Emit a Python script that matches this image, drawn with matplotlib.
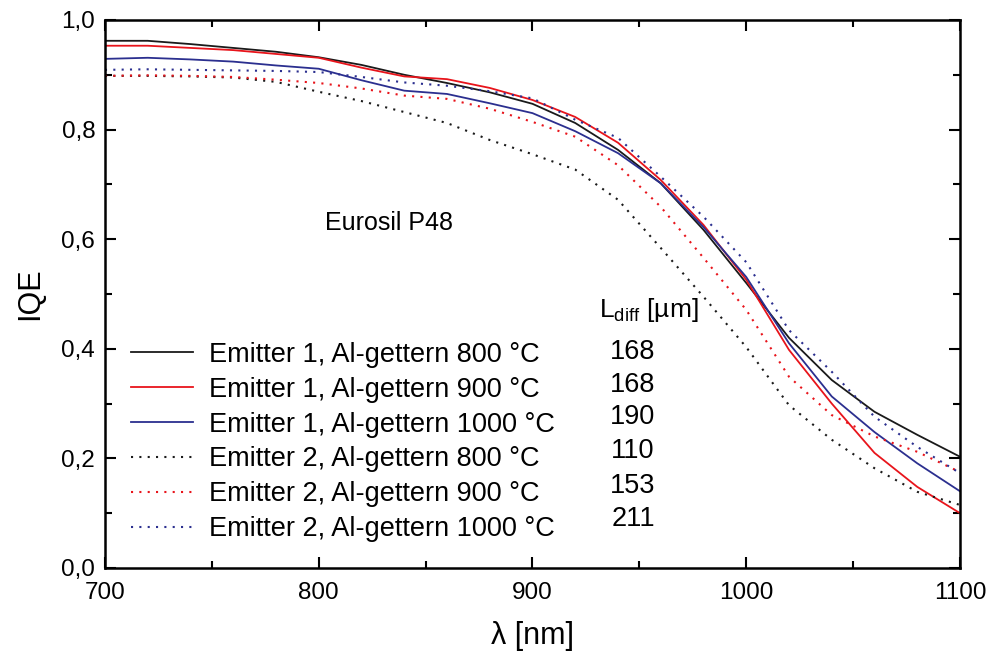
import matplotlib
matplotlib.use("Agg")
import matplotlib.pyplot as plt
from matplotlib.ticker import MultipleLocator, FuncFormatter

plt.rcParams['font.family'] = ['Liberation Sans', 'DejaVu Sans']
plt.rcParams['mathtext.fontset'] = 'custom'
plt.rcParams['mathtext.rm'] = 'Liberation Sans'
plt.rcParams['mathtext.it'] = 'Liberation Sans'

# wavelength grid (nm) - measured every 20 nm
wl = [700, 720, 740, 760, 780, 800, 820, 840, 860, 880, 900, 920, 940, 960, 980,
      1000, 1020, 1040, 1060, 1080, 1100]

# Emitter 1 (solid)
e1_800 = [0.962, 0.962, 0.956, 0.949, 0.942, 0.932, 0.918, 0.900, 0.885, 0.868, 0.847,
          0.812, 0.763, 0.702, 0.617, 0.520, 0.420, 0.343, 0.285, 0.243, 0.203]
e1_900 = [0.953, 0.953, 0.949, 0.945, 0.938, 0.931, 0.913, 0.897, 0.892, 0.876, 0.854,
          0.823, 0.776, 0.708, 0.626, 0.526, 0.398, 0.300, 0.210, 0.148, 0.100]
e1_1000 = [0.929, 0.931, 0.928, 0.924, 0.917, 0.911, 0.890, 0.871, 0.865, 0.848, 0.830,
           0.797, 0.757, 0.702, 0.622, 0.531, 0.410, 0.313, 0.248, 0.191, 0.140]

# Emitter 2 (dotted)
e2_800 = [0.898, 0.898, 0.897, 0.895, 0.887, 0.869, 0.852, 0.832, 0.812, 0.781, 0.755,
          0.727, 0.672, 0.584, 0.495, 0.403, 0.297, 0.234, 0.182, 0.139, 0.115]
e2_900 = [0.898, 0.899, 0.898, 0.896, 0.891, 0.885, 0.875, 0.862, 0.856, 0.838, 0.814,
          0.787, 0.735, 0.659, 0.566, 0.471, 0.349, 0.279, 0.240, 0.212, 0.175]
e2_1000 = [0.909, 0.910, 0.909, 0.908, 0.907, 0.905, 0.896, 0.886, 0.880, 0.870, 0.857,
           0.818, 0.785, 0.714, 0.641, 0.558, 0.434, 0.358, 0.276, 0.221, 0.173]

labels = ["Emitter 1, Al-gettern 800 °C", "Emitter 1, Al-gettern 900 °C",
          "Emitter 1, Al-gettern 1000 °C", "Emitter 2, Al-gettern 800 °C",
          "Emitter 2, Al-gettern 900 °C", "Emitter 2, Al-gettern 1000 °C"]
l_diff = ["168", "168", "190", "110", "153", "211"]

series = [e1_800, e1_900, e1_1000, e2_800, e2_900, e2_1000]
colors = ["#1a1a1a", "#e8141b", "#2b2f8f", "#1a1a1a", "#e8141b", "#2b2f8f"]
styles = ["-", "-", "-", (0, (1, 3)), (0, (1, 3)), (0, (1, 3))]

fig = plt.figure(figsize=(9.94, 6.57), dpi=100)
ax = fig.add_axes([0.1056, 0.1355, 0.8602, 0.8341])

for ys, c, ls, lab in zip(series, colors, styles, labels):
    lw = 1.3 if ls == "-" else 1.5
    ax.plot(wl, ys, color=c, linestyle=ls, linewidth=lw, label=lab)

ax.set_xlim(700, 1100)
ax.set_ylim(0, 1.0)
ax.xaxis.set_major_locator(MultipleLocator(100))
ax.xaxis.set_minor_locator(MultipleLocator(50))
ax.yaxis.set_major_locator(MultipleLocator(0.2))
ax.yaxis.set_minor_locator(MultipleLocator(0.1))
ax.yaxis.set_major_formatter(FuncFormatter(lambda v, p: f"{v:.1f}".replace(".", ",")))
ax.tick_params(which="both", direction="in", top=True, right=True, width=1.5,
               labelsize=17.5)
ax.tick_params(axis="y", pad=7)
ax.tick_params(axis="x", pad=10)
ax.tick_params(which="major", length=8)
ax.tick_params(which="minor", length=5)
for s in ax.spines.values():
    s.set_linewidth(1.8)

ax.set_xlabel("λ [nm]", fontsize=22, labelpad=12)
ax.set_ylabel("IQE", fontsize=22, labelpad=12)

ax.text(803, 0.63, "Eurosil P48", fontsize=18, va="center", ha="left")

leg = ax.legend(loc="upper left", bbox_to_anchor=(0.03, 0.413), frameon=False,
                fontsize=19.5, handlelength=2.3, handletextpad=0.6, labelspacing=0.33,
                borderaxespad=0.0, borderpad=0.0)

ax.text(0.636, 0.471, r"L$_{\mathrm{diff}}$ [µm]", transform=ax.transAxes, fontsize=19,
        ha="center", va="center")
row_y = [0.394, 0.334, 0.276, 0.214, 0.150, 0.089]
for yy, val in zip(row_y, l_diff):
    ax.text(0.6175, yy, val, transform=ax.transAxes, fontsize=19.5, ha="center", va="center")

fig.savefig("out.png", dpi=100)
